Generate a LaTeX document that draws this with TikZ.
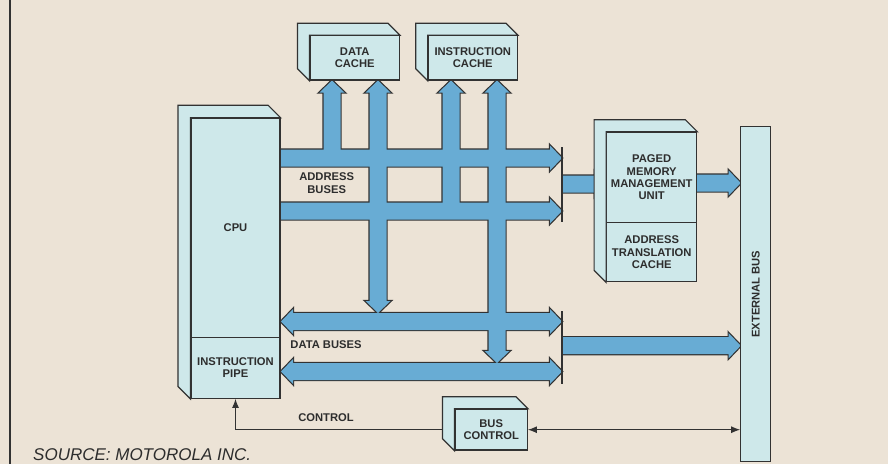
\documentclass[tikz,border=0pt]{standalone}
\usepackage{fontspec}
\setmainfont{Liberation Sans}
\usetikzlibrary{calc,arrows.meta}
\definecolor{paper}{RGB}{236,227,214}
\definecolor{boxc}{RGB}{206,232,234}
\definecolor{busc}{RGB}{104,172,212}
\definecolor{ol}{RGB}{50,50,50}
\definecolor{txt}{RGB}{45,45,45}
\def\bs{8.5}\def\bh{12.5}\def\bl{12}
% right-pointing bus arrow: x1, xtip, y
\newcommand\rarr[3]{(#1,{#3-\bs}) -- ({#2-\bl},{#3-\bs}) -- ({#2-\bl},{#3-\bh}) -- (#2,#3) -- ({#2-\bl},{#3+\bh}) -- ({#2-\bl},{#3+\bs}) -- (#1,{#3+\bs}) -- cycle}
% double-headed horizontal bus: xleft tip, xright tip, y
\newcommand\lrarr[3]{(#1,#3) -- ({#1+\bl},{#3-\bh}) -- ({#1+\bl},{#3-\bs}) -- ({#2-\bl},{#3-\bs}) -- ({#2-\bl},{#3-\bh}) -- (#2,#3) -- ({#2-\bl},{#3+\bh}) -- ({#2-\bl},{#3+\bs}) -- ({#1+\bl},{#3+\bs}) -- ({#1+\bl},{#3+\bh}) -- cycle}
% up arrow: x, ybase, ytip
\newcommand\uarr[3]{({#1-\bs},#2) -- ({#1-\bs},{#3+\bl}) -- ({#1-\bh},{#3+\bl}) -- (#1,#3) -- ({#1+\bh},{#3+\bl}) -- ({#1+\bs},{#3+\bl}) -- ({#1+\bs},#2) -- cycle}
% double-headed vertical bus: x, ytop tip, ybottom tip
\newcommand\udarr[3]{(#1,#2) -- ({#1+\bh},{#2+\bl}) -- ({#1+\bs},{#2+\bl}) -- ({#1+\bs},{#3-\bl}) -- ({#1+\bh},{#3-\bl}) -- (#1,#3) -- ({#1-\bh},{#3-\bl}) -- ({#1-\bs},{#3-\bl}) -- ({#1-\bs},{#2+\bl}) -- ({#1-\bh},{#2+\bl}) -- cycle}
\newcommand\busshapes[1]{%
 \path[#1] \rarr{280}{562}{158};
 \path[#1] \rarr{280}{562}{211};
 \path[#1] \uarr{332}{158}{80.5};
 \path[#1] \udarr{378}{80.5}{313};
 \path[#1] \uarr{451}{211}{80.5};
 \path[#1] \udarr{497}{80.5}{363};
 \path[#1] \lrarr{281}{562}{321.5};
 \path[#1] \lrarr{281}{562}{371.5};
 \path[#1] \rarr{563}{606.7}{184};
 \path[#1] \rarr{563}{740.7}{345.7};
 \path[#1] \rarr{696.7}{740.7}{183};
}
\newcommand\backface[3]{%
 \draw[boxline] ($(#1.north west)+(-#3,-#3)$) -- ($(#1.north east)+(-#3,-#3)$) -- (#1.north east) -- (#1.north west) -- (#2.south west) -- ($(#2.south west)+(-#3,-#3)$) -- cycle;}
\tikzset{
 lblfont/.style={font=\bfseries\fontsize{11.2}{12.4}\selectfont, text=txt, align=center},
 boxline/.style={draw=ol, fill=boxc, line width=1.2pt, line join=miter},
 box/.style={boxline, lblfont, inner sep=0pt},
 lbl/.style={lblfont, inner sep=0pt},
 thinline/.style={draw=ol, line width=1pt},
}
\begin{document}
\begin{tikzpicture}[x=1pt,y=-1pt]
\useasboundingbox (0,0) rectangle (888,464);
\fill[paper] (0,0) rectangle (888,464);
\draw[ol, line width=1.2pt] (10,0) -- (10,464);
% buses: outline then fill (union look)
\busshapes{draw=ol, line width=2.4pt}
\busshapes{fill=busc}
% bars where buses merge
\draw[ol, line width=1.2pt] (562,147) -- (562,222);
\draw[ol, line width=1.2pt] (562,311) -- (562,384);
% boxes
\node[box, minimum width=89.3pt, minimum height=44.3pt] (dcache) at (354.7,57.9) {DATA\\CACHE};
\backface{dcache}{dcache}{12}
\node[box, minimum width=89pt, minimum height=44.3pt] (icache) at (472.8,57.9) {INSTRUCTION\\CACHE};
\backface{icache}{icache}{12}
\node[box, minimum width=89pt, minimum height=219pt] (cpu) at (235.5,227.8) {CPU};
\node[box, minimum width=89pt, minimum height=61pt] (pipe) at (235.5,367.8) {INSTRUCTION\\PIPE};
\backface{cpu}{pipe}{12.5}
\node[box, minimum width=90pt, minimum height=90.4pt] (pmmu) at (651.7,177.5) {PAGED\\MEMORY\\MANAGEMENT\\UNIT};
\node[box, minimum width=90pt, minimum height=59pt] (atc) at (651.7,252.2) {ADDRESS\\TRANSLATION\\CACHE};
\backface{pmmu}{atc}{12}
\node[box, minimum width=72.3pt, minimum height=40.7pt] (busctl) at (491.2,429.7) {BUS\\CONTROL};
\backface{busctl}{busctl}{12}
\node[boxline, minimum width=30pt, minimum height=335pt, inner sep=0pt] (extbus) at (755.7,294.2) {};
\node[lbl, rotate=90] (extlbl) at (extbus.center) {EXTERNAL BUS};
% labels
\node[lbl] (addrlbl) at (326.7,183.3) {ADDRESS\\BUSES};
\node[lbl] (datalbl) at (326,345) {DATA BUSES};
\node[lbl] (ctllbl) at (326,417.3) {CONTROL};
% control connectors
\coordinate (ctlstart) at ([xshift=-12pt]busctl.west);
\draw[thinline, -{Latex[length=9pt,width=7pt]}] (ctlstart) -| (pipe.south);
\draw[thinline, {Latex[length=9pt,width=7pt]}-{Latex[length=9pt,width=7pt]}] (busctl.east) -- (busctl.east -| extbus.west);
% source
\node[anchor=base west, inner sep=0pt, font=\itshape\fontsize{17}{17}\selectfont, text=txt] (src) at (33,460.7) {SOURCE: MOTOROLA INC.};
\end{tikzpicture}
\end{document}
